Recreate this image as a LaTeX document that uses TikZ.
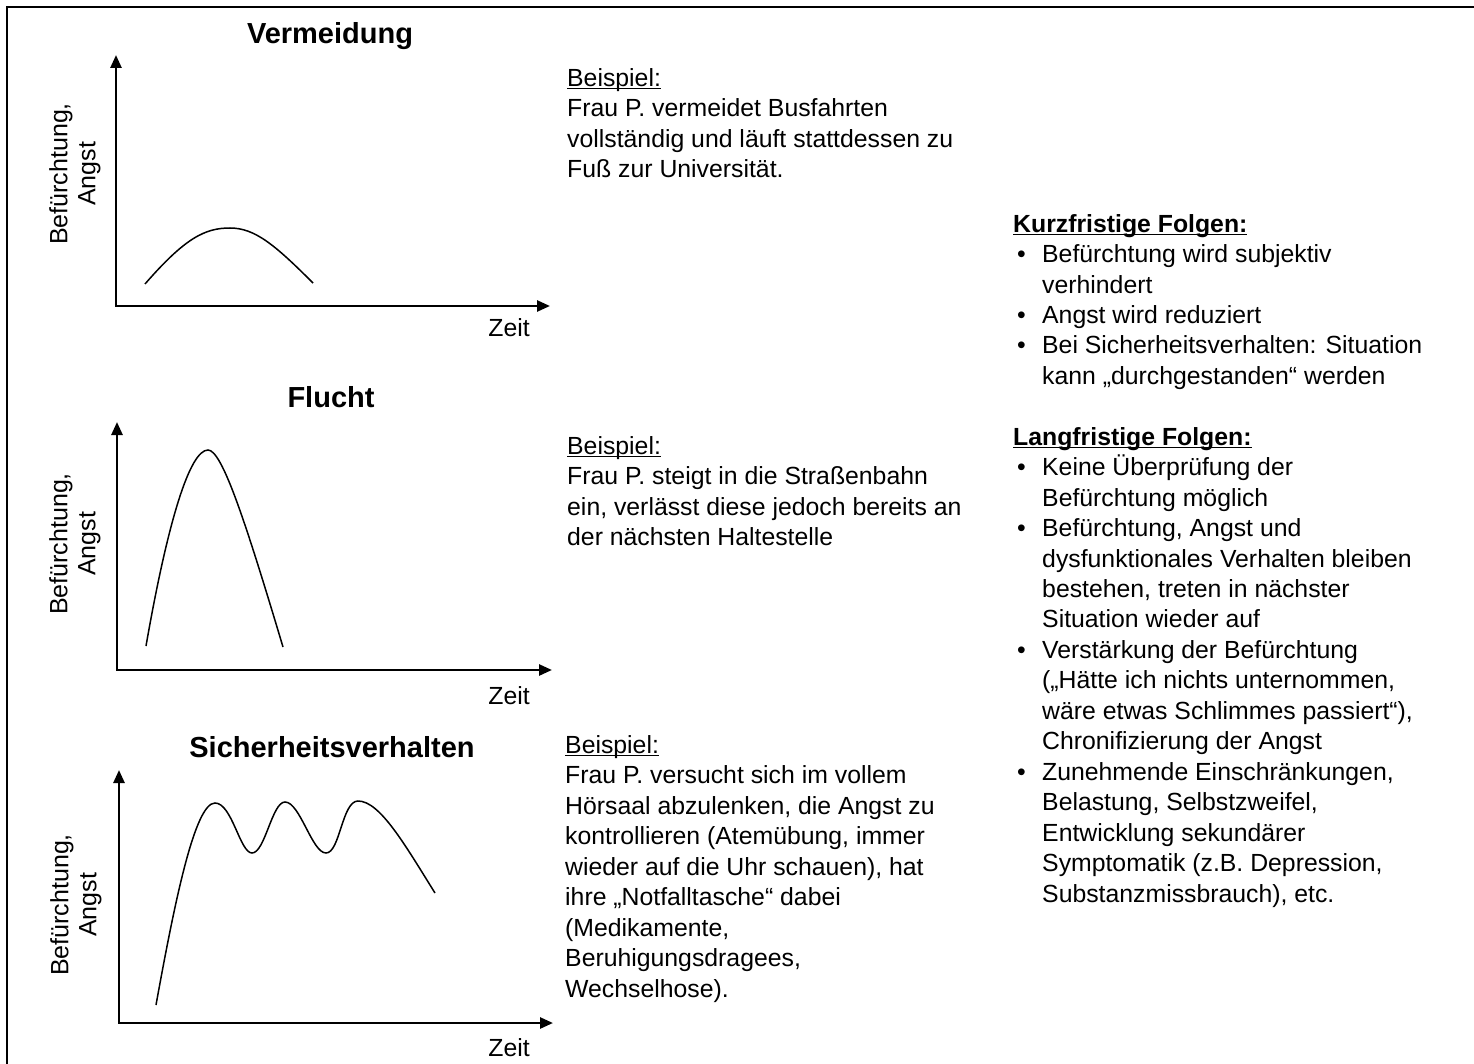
\documentclass[tikz,border=0pt]{standalone}
\usepackage{fontspec}
\setmainfont{Liberation Sans}
\usetikzlibrary{arrows.meta}
\newcommand{\ulin}[1]{\setbox0=\hbox{#1}\rlap{\rule[-3pt]{\wd0}{1.3pt}}\box0}
\newcommand{\itembul}{\makebox[29pt][l]{\hspace{4pt}•}}
\newcommand{\itemind}{\hspace*{29pt}}
\tikzset{
  axis/.style={line width=2.6pt, {Triangle[length=13pt,width=11pt]}-{Triangle[length=13pt,width=11pt]}},
  curve/.style={line width=1.5pt},
  ttl/.style={font=\fontsize{29}{34}\selectfont\bfseries, inner sep=0pt, anchor=base},
  txt/.style={font=\fontsize{24.8}{30.45}\selectfont, inner sep=0pt, align=left, anchor=base west},
  ylab/.style={font=\fontsize{25}{28}\selectfont, inner sep=0pt, align=center, rotate=90},
  zeit/.style={font=\fontsize{24.8}{30}\selectfont, inner sep=0pt, anchor=base east}
}
\begin{document}
\begin{tikzpicture}[x=1pt,y=-1pt]
    \useasboundingbox (0,0) rectangle (1474,1064);
    \draw[line width=2pt] (7,1064) -- (7,7) -- (1474,7);

    \node[ttl] (ttlVermeidung) at (330,44) {Vermeidung};
    \coordinate (oV) at (116,306);
    \coordinate (yV) at (116,55);
    \coordinate (xV) at (550,306);
    \draw[axis] (yV) -- (oV) -- (xV);
    \node[ylab] (labV) at (75,174) {Befürchtung,\\Angst};
    \node[zeit] (zeitV) at (530,337) {Zeit};
    \draw[curve] (145,284) .. controls (185,238) and (205,228) .. (230,228)
        .. controls (255,228) and (275,245) .. (313,283);
    \node[txt] (bspV) at (567,177.5) {\ulin{Beispiel:}\\
        Frau P. vermeidet Busfahrten\\
        vollständig und läuft stattdessen zu\\
        Fuß zur Universität.};

    \node[ttl] (ttlFlucht) at (331,407) {Flucht};
    \coordinate (oF) at (117,670);
    \coordinate (yF) at (117,422);
    \coordinate (xF) at (552,670);
    \draw[axis] (yF) -- (oF) -- (xF);
    \node[ylab] (labF) at (75,544) {Befürchtung,\\Angst};
    \node[zeit] (zeitF) at (530,704) {Zeit};
    \draw[curve] (146,646) .. controls (168,520) and (190,450) .. (208,450)
        .. controls (222,450) and (245,520) .. (283,647);
    \node[txt] (bspF) at (567,545.5) {\ulin{Beispiel:}\\
        Frau P. steigt in die Straßenbahn\\
        ein, verlässt diese jedoch bereits an\\
        der nächsten Haltestelle};

    \node[ttl] (ttlSicher) at (332,757) {Sicherheitsverhalten};
    \coordinate (oS) at (119,1023);
    \coordinate (yS) at (119,770);
    \coordinate (xS) at (553,1023);
    \draw[axis] (yS) -- (oS) -- (xS);
    \node[ylab] (labS) at (76,905) {Befürchtung,\\Angst};
    \node[zeit] (zeitS) at (530,1056) {Zeit};
    \draw[curve] (156,1005) .. controls (175,900) and (195,803) .. (215,803)
        .. controls (232,803) and (240,853) .. (252,853)
        .. controls (265,853) and (272,802) .. (285,802)
        .. controls (300,802) and (312,853) .. (326,853)
        .. controls (340,853) and (342,801) .. (358,801)
        .. controls (380,801) and (405,845) .. (435,893);
    \node[txt] (bspS) at (565,997) {\ulin{Beispiel:}\\
        Frau P. versucht sich im vollem\\
        Hörsaal abzulenken, die Angst zu\\
        kontrollieren (Atemübung, immer\\
        wieder auf die Uhr schauen), hat\\
        ihre „Notfalltasche“ dabei\\
        (Medikamente,\\
        Beruhigungsdragees,\\
        Wechselhose).};

    \node[txt] (folgen) at (1013,902) {\ulin{\bfseries Kurzfristige Folgen:}\\
        \itembul Befürchtung wird subjektiv\\
        \itemind verhindert\\
        \itembul Angst wird reduziert\\
        \itembul Bei Sicherheitsverhalten: Situation\\
        \itemind kann „durchgestanden“ werden\\[30.45pt]
        \ulin{\bfseries Langfristige Folgen:}\\
        \itembul Keine Überprüfung der\\
        \itemind Befürchtung möglich\\
        \itembul Befürchtung, Angst und\\
        \itemind dysfunktionales Verhalten bleiben\\
        \itemind bestehen, treten in nächster\\
        \itemind Situation wieder auf\\
        \itembul Verstärkung der Befürchtung\\
        \itemind („Hätte ich nichts unternommen,\\
        \itemind wäre etwas Schlimmes passiert“),\\
        \itemind Chronifizierung der Angst\\
        \itembul Zunehmende Einschränkungen,\\
        \itemind Belastung, Selbstzweifel,\\
        \itemind Entwicklung sekundärer\\
        \itemind Symptomatik (z.B. Depression,\\
        \itemind Substanzmissbrauch), etc.};
\end{tikzpicture}
\end{document}
